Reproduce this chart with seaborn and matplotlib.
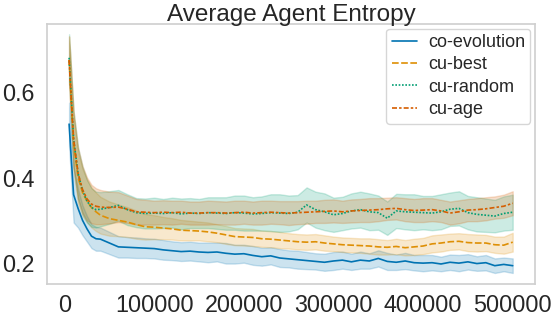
import numpy as np
import pandas as pd
import matplotlib
matplotlib.use("Agg")
import matplotlib.pyplot as plt
import seaborn as sns

# training steps
steps = [5000, 10000, 15000, 20000, 25000, 30000, 35000, 40000, 50000, 60000,
         70000, 80000, 90000, 100000, 110000, 120000, 130000, 140000, 150000, 160000,
         170000, 180000, 190000, 200000, 210000, 220000, 230000, 240000, 250000, 260000,
         270000, 280000, 290000, 300000, 310000, 320000, 330000, 340000, 350000, 360000,
         370000, 380000, 390000, 400000, 410000, 420000, 430000, 440000, 450000, 460000,
         470000, 480000, 490000, 500000]

methods = ["co-evolution", "cu-best", "cu-random", "cu-age"]

# mean entropy per method
coevo_mean = [.525, .360, .328, .300, .280, .263, .257, .256, .247, .238,
              .237, .236, .235, .234, .231, .229, .227, .228, .226, .225,
              .226, .223, .221, .222, .218, .215, .217, .212, .210, .208,
              .206, .204, .202, .205, .207, .203, .207, .205, .211, .204,
              .202, .205, .201, .200, .201, .198, .202, .200, .203, .199,
              .201, .194, .197, .194]
best_mean = [.675, .480, .400, .365, .345, .330, .320, .312, .304, .300,
             .296, .290, .285, .284, .282, .280, .277, .276, .275, .273,
             .270, .266, .262, .261, .260, .257, .256, .254, .252, .250,
             .249, .250, .247, .245, .243, .242, .241, .240, .238, .237,
             .239, .236, .238, .240, .245, .247, .250, .251, .248, .247,
             .247, .243, .242, .249]
random_mean = [.680, .490, .410, .370, .345, .330, .325, .326, .330, .335,
               .325, .318, .316, .317, .316, .318, .315, .317, .316, .318,
               .317, .316, .318, .317, .315, .316, .318, .317, .316, .319,
               .336, .325, .320, .313, .316, .322, .325, .320, .318, .305,
               .322, .320, .319, .318, .317, .320, .326, .328, .318, .314,
               .312, .310, .316, .319]
age_mean = [.675, .490, .410, .372, .350, .338, .333, .331, .330, .331,
            .326, .320, .319, .318, .319, .318, .319, .317, .317, .318,
            .318, .317, .318, .319, .317, .318, .319, .318, .317, .318,
            .319, .320, .321, .322, .320, .322, .323, .324, .325, .327,
            .328, .325, .323, .324, .325, .322, .317, .320, .324, .325,
            .327, .330, .333, .340]

# spread (half width of the shaded band)
coevo_sd = [.050, .065, .045, .035, .030, .028, .028, .027, .026, .025,
            .024, .024, .023, .023, .023, .022, .022, .022, .022, .023,
            .022, .024, .022, .021, .022, .021, .020, .021, .020, .021,
            .020, .019, .020, .021, .020, .019, .020, .018, .019, .020,
            .018, .019, .018, .019, .018, .017, .018, .019, .018, .017,
            .018, .017, .016, .017]
best_sd = [.055, .065, .060, .055, .050, .047, .045, .043, .040, .037,
           .035, .033, .030, .028, .026, .025, .024, .023, .022, .022,
           .021, .021, .020, .020, .020, .019, .019, .019, .018, .018,
           .018, .018, .018, .017, .017, .017, .017, .018, .018, .017,
           .018, .018, .019, .019, .020, .020, .019, .019, .020, .020,
           .019, .019, .020, .022]
random_sd = [.055, .065, .060, .055, .050, .045, .042, .040, .038, .036,
             .036, .034, .035, .036, .034, .035, .036, .035, .034, .036,
             .037, .038, .040, .041, .039, .040, .043, .044, .042, .040,
             .041, .042, .043, .040, .039, .041, .042, .043, .040, .039,
             .040, .041, .042, .039, .040, .041, .039, .040, .039, .040,
             .039, .038, .040, .041]
age_sd = [.055, .065, .060, .055, .050, .045, .042, .040, .037, .035,
          .032, .030, .029, .028, .028, .028, .027, .027, .027, .028,
          .027, .027, .028, .027, .027, .028, .027, .027, .028, .027,
          .027, .026, .027, .027, .026, .027, .027, .028, .027, .026,
          .026, .027, .027, .028, .027, .026, .027, .027, .026, .027,
          .027, .026, .027, .028]

means = [coevo_mean, best_mean, random_mean, age_mean]
sds = [coevo_sd, best_sd, random_sd, age_sd]

# long table: lower edge, mean, upper edge per step -> median + min/max band
rows = []
for name, m, s in zip(methods, means, sds):
    for x, mu, sd in zip(steps, m, s):
        for v in (mu - sd, mu, mu + sd):
            rows.append({"step": x, "entropy": v, "method": name})
df = pd.DataFrame(rows)

sns.set_theme(style="white", palette="colorblind")
plt.rcParams["font.family"] = ["Liberation Sans", "DejaVu Sans"]

fig = plt.figure(figsize=(5.52, 3.16), dpi=100)
ax = fig.add_axes([0.085, 0.101, 0.884, 0.823])

sns.lineplot(data=df, x="step", y="entropy", hue="method", style="method",
             hue_order=methods, style_order=methods,
             estimator="median", errorbar=("pi", 100),
             linewidth=1.2, ax=ax)

ax.set_ylim(0.151, 0.759)
ax.set_yticks([0.2, 0.4, 0.6])
ax.set_xticks([0, 100000, 200000, 300000, 400000, 500000])
ax.set_xlabel("")
ax.set_ylabel("")
ax.tick_params(labelsize=16.8)
ax.tick_params(axis="x", pad=1)
ax.tick_params(axis="y", pad=3)
ax.set_title("Average Agent Entropy", fontsize=17.5, pad=2)
for sp in ax.spines.values():
    sp.set_color("#d0d0d0")

handles, labels = ax.get_legend_handles_labels()
ax.legend(handles, labels, loc="upper right", fontsize=13,
          borderaxespad=0.25, handlelength=1.4, handletextpad=0.6,
          labelspacing=0.3, borderpad=0.3)

fig.savefig("out.png", dpi=100)
